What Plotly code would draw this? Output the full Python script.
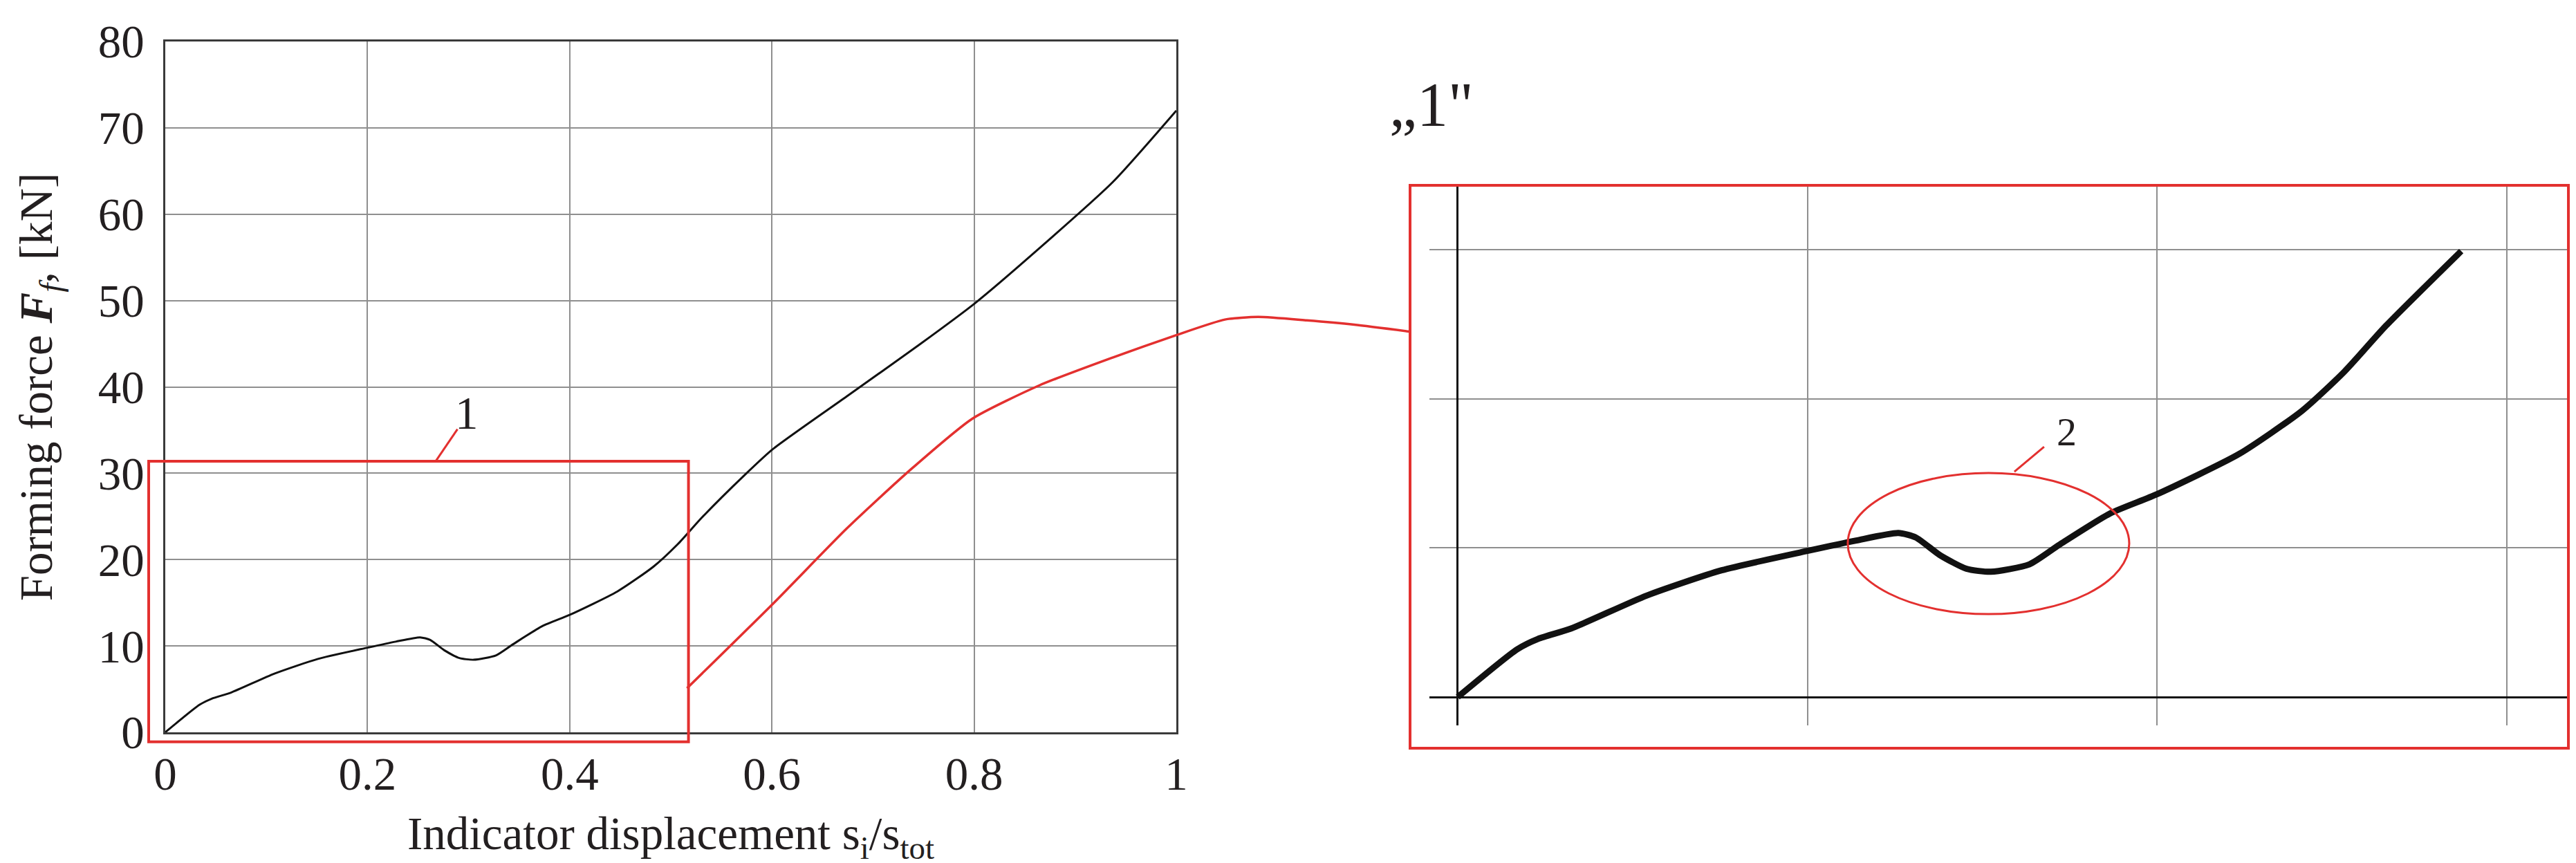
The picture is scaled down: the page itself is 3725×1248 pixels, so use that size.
import plotly.graph_objects as go

# main curve (black), forming force vs relative displacement
black_x = [0, 0.034, 0.046, 0.065, 0.108, 0.151, 0.2, 0.228, 0.252, 0.262, 0.276,
           0.291, 0.305, 0.327, 0.344, 0.373, 0.4, 0.447, 0.483, 0.507, 0.531,
           0.574, 0.601, 0.674, 0.746, 0.801, 0.865, 0.937, 1.0]
black_y = [0, 3.2, 3.9, 4.6, 6.8, 8.5, 9.8, 10.5, 11.0, 10.7, 9.5,
           8.6, 8.4, 8.9, 10.2, 12.3, 13.6, 16.3, 19.2, 21.8, 24.9,
           29.9, 32.8, 38.9, 44.9, 49.7, 56.1, 63.7, 72.0]

# red curve, starting at the edge of box "1"
red_x = [0.516, 0.602, 0.674, 0.736, 0.798, 0.865, 0.937, 1.0]
red_y = [5.1, 15.0, 23.6, 30.3, 36.3, 40.2, 43.4, 46.0]

# red connector running from the curve end over to the inset box
link_x = [1.0, 1.048, 1.081, 1.129, 1.176, 1.231]
link_y = [46.0, 47.8, 48.1, 47.7, 47.2, 46.4]

x_ticks = [0, 0.2, 0.4, 0.6, 0.8, 1]
x_ticktext = ["0", "0.2", "0.4", "0.6", "0.8", "1"]
y_ticks = [0, 10, 20, 30, 40, 50, 60, 70, 80]

inset_x_max = 0.574   # the magnified view ends here
box1 = dict(x0=-0.0164, x1=0.5175, y0=-1.1, y1=31.4)
ellipse2 = dict(x0=0.2231, x1=0.3841, y0=5.56, y1=15.02)

W, H = 3725, 1248
FONT = "Liberation Serif"
TXT = "#231f20"
RED = "#e3302f"
GRID = "#8f8f8f"

# main plot area
MX = [231 / W, 1693 / W]
MY = [1 - 1051 / H, 1 - 52 / H]
X_RANGE = [0, 1]
Y_RANGE = [0, 80]

# full-figure overlay with the same scale as the main axes (for marks that leave the frame)
def stretch(dom, rng):
    span = (rng[1] - rng[0]) / (dom[1] - dom[0])
    return [rng[0] - dom[0] * span, rng[1] + (1 - dom[1]) * span]

fig = go.Figure()

fig.add_trace(go.Scatter(
    x=black_x, y=black_y, mode="lines", xaxis="x", yaxis="y",
    line=dict(color="#111111", width=3, shape="spline", smoothing=0.6),
    hoverinfo="skip", showlegend=False,
))

fig.add_trace(go.Scatter(
    x=red_x + link_x[1:], y=red_y + link_y[1:], mode="lines", xaxis="x3", yaxis="y3",
    line=dict(color=RED, width=3.5, shape="spline", smoothing=0.6),
    hoverinfo="skip", showlegend=False,
))

inset_pts = [(x, y) for x, y in zip(black_x, black_y) if x <= inset_x_max]
fig.add_trace(go.Scatter(
    x=[p[0] for p in inset_pts], y=[p[1] for p in inset_pts], mode="lines",
    xaxis="x2", yaxis="y2",
    line=dict(color="#111111", width=9, shape="spline", smoothing=0.6),
    hoverinfo="skip", showlegend=False,
))

axis_font = dict(family=FONT, size=67, color=TXT)

fig.update_layout(
    width=W, height=H,
    margin=dict(l=0, r=0, t=0, b=0),
    paper_bgcolor="white",
    plot_bgcolor="rgba(0,0,0,0)",
    font=dict(family=FONT, color=TXT),
    xaxis=dict(
        domain=MX, range=X_RANGE, tickvals=x_ticks, ticktext=x_ticktext,
        showgrid=True, gridcolor=GRID, gridwidth=1.5, zeroline=False,
        showline=True, mirror=True, linecolor="#3a3a3a", linewidth=2.5,
        ticks="", tickfont=axis_font, ticklabelstandoff=0, automargin=False,
        title=dict(text="Indicator displacement s<sub>i</sub>/s<sub>tot</sub>",
                   font=axis_font, standoff=26),
        anchor="y",
    ),
    yaxis=dict(
        domain=MY, range=Y_RANGE, tickvals=y_ticks,
        showgrid=True, gridcolor=GRID, gridwidth=1.5, zeroline=False,
        showline=True, mirror=True, linecolor="#3a3a3a", linewidth=2.5,
        ticks="", tickfont=axis_font, ticklabelstandoff=14, automargin=False,
        title=dict(text="Forming force <b><i>F</i></b><sub><i>f</i></sub>, [kN]",
                   font=axis_font, standoff=45),
        anchor="x",
    ),
    xaxis2=dict(
        domain=[2059 / W, 3706 / W], range=[-0.0162, 0.6353], dtick=0.2,
        showgrid=True, gridcolor=GRID, gridwidth=1.5,
        zeroline=True, zerolinecolor="#111111", zerolinewidth=2.5,
        showticklabels=False, ticks="", showline=False, anchor="y2", automargin=False,
    ),
    yaxis2=dict(
        domain=[1 - 1041 / H, 1 - 260 / H], range=[-1.90, 34.31], dtick=10,
        showgrid=True, gridcolor=GRID, gridwidth=1.5,
        zeroline=True, zerolinecolor="#111111", zerolinewidth=2.5,
        showticklabels=False, ticks="", showline=False, anchor="x2", automargin=False,
    ),
    xaxis3=dict(domain=[0, 1], range=stretch(MX, X_RANGE), visible=False,
                anchor="y3", fixedrange=True),
    yaxis3=dict(domain=[0, 1], range=stretch(MY, Y_RANGE), visible=False,
                anchor="x3", fixedrange=True),
)

# box "1" on the main chart and its label
fig.add_shape(type="rect", xref="x3", yref="y3", **box1,
              line=dict(color=RED, width=4))
fig.add_shape(type="line", xref="x3", yref="y3", x0=0.2675, y0=31.4, x1=0.289, y1=35.1,
              line=dict(color=RED, width=3))
fig.add_annotation(x=0.298, y=37.0, xref="x3", yref="y3", text="1", showarrow=False,
                   xanchor="center", yanchor="middle",
                   font=dict(family=FONT, size=67, color=TXT))

# inset frame and title
fig.add_shape(type="rect", xref="paper", yref="paper",
              x0=2031 / W, x1=3706 / W, y0=1 - 1074 / H, y1=1 - 260 / H,
              line=dict(color=RED, width=4))
fig.add_annotation(x=2062 / W, y=1 - 195 / H, xref="paper", yref="paper",
                   text="„1\"", showarrow=False, xanchor="center", yanchor="bottom",
                   font=dict(family=FONT, size=90, color=TXT))

# ellipse "2" in the inset
fig.add_shape(type="circle", xref="x2", yref="y2", **ellipse2,
              line=dict(color=RED, width=3))
fig.add_shape(type="line", xref="x2", yref="y2", x0=0.3184, y0=15.11, x1=0.3354, y1=16.78,
              line=dict(color=RED, width=3))
fig.add_annotation(x=0.3485, y=17.76, xref="x2", yref="y2", text="2", showarrow=False,
                   xanchor="center", yanchor="middle",
                   font=dict(family=FONT, size=58, color=TXT))

fig.write_html("out.html")
